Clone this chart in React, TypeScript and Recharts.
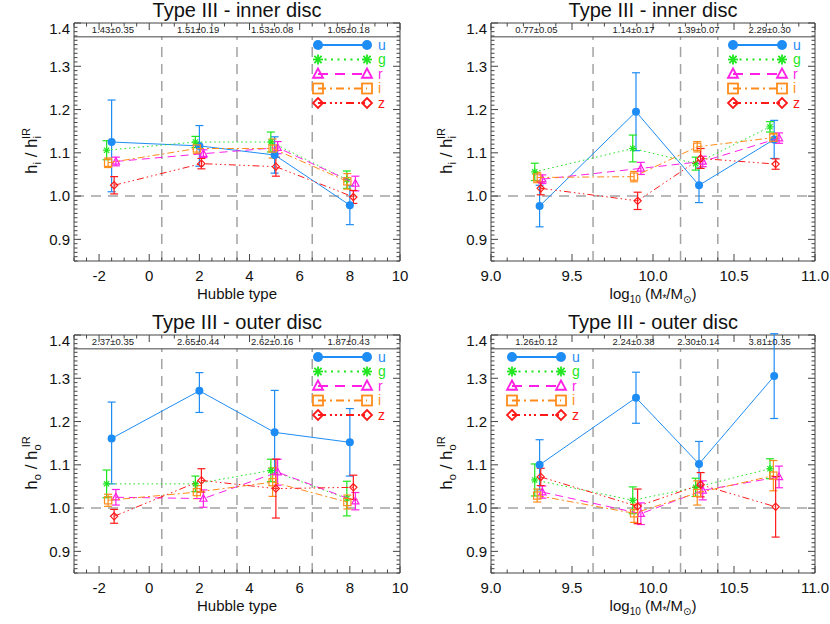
import React from "react";
import {
  ScatterChart,
  Scatter,
  XAxis,
  YAxis,
  ErrorBar,
  ReferenceLine,
  ReferenceArea,
  ReferenceDot,
  Legend,
} from "recharts";

type Band = "u" | "g" | "r" | "i" | "z";
type Err = number | [number, number];

const BANDS: Band[] = ["u", "g", "r", "i", "z"];

// x positions of the points (bands are shifted a little around each bin)
const typeX: Record<Band, number[]> = {
  u: [-1.5, 2.0, 5.0, 8.0],
  g: [-1.7, 1.84, 4.85, 7.88],
  r: [-1.33, 2.16, 5.12, 8.22],
  i: [-1.64, 1.9, 4.92, 7.9],
  z: [-1.4, 2.08, 5.05, 8.14],
};
const massX: Record<Band, number[]> = {
  u: [9.3, 9.895, 10.284, 10.748],
  g: [9.27, 9.875, 10.263, 10.722],
  r: [9.317, 9.925, 10.307, 10.778],
  i: [9.285, 9.883, 10.273, 10.743],
  z: [9.307, 9.905, 10.294, 10.757],
};

// inner disc vs Hubble type
const innerTypeY: Record<Band, number[]> = {
  u: [1.125, 1.116, 1.095, 0.979],
  g: [1.106, 1.125, 1.125, 1.038],
  r: [1.08, 1.098, 1.112, 1.029],
  i: [1.077, 1.11, 1.11, 1.034],
  z: [1.025, 1.075, 1.068, 0.998],
};
const innerTypeErr: Record<Band, Err[]> = {
  u: [[0.115, 0.097], 0.047, 0.042, 0.045],
  g: [0.022, 0.013, 0.023, 0.02],
  r: [0.01, 0.009, 0.014, 0.017],
  i: [0.011, 0.012, 0.022, 0.018],
  z: [0.02, 0.012, 0.022, 0.015],
};

// inner disc vs stellar mass
const innerMassY: Record<Band, number[]> = {
  u: [0.977, 1.195, 1.025, 1.131],
  g: [1.056, 1.11, 1.075, 1.16],
  r: [1.039, 1.064, 1.08, 1.134],
  i: [1.043, 1.045, 1.114, 1.135],
  z: [1.018, 0.989, 1.087, 1.074],
};
const innerMassErr: Record<Band, Err[]> = {
  u: [0.048, 0.09, 0.04, 0.044],
  g: [0.02, 0.031, 0.015, 0.012],
  r: [0.01, 0.014, 0.012, 0.012],
  i: [0.012, 0.012, 0.012, 0.01],
  z: [0.015, 0.02, 0.023, 0.012],
};

// outer disc vs Hubble type
const outerTypeY: Record<Band, number[]> = {
  u: [1.161, 1.271, 1.175, 1.152],
  g: [1.056, 1.056, 1.087, 1.022],
  r: [1.025, 1.022, 1.083, 1.016],
  i: [1.018, 1.037, 1.06, 1.014],
  z: [0.981, 1.064, 1.045, 1.048],
};
const outerTypeErr: Record<Band, Err[]> = {
  u: [[0.105, 0.084], [0.05, 0.042], 0.097, 0.078],
  g: [0.032, 0.018, 0.026, 0.04],
  r: [0.018, 0.02, 0.03, 0.02],
  i: [0.014, 0.015, 0.033, 0.016],
  z: [0.016, 0.027, 0.068, 0.028],
};

// outer disc vs stellar mass
const outerMassY: Record<Band, number[]> = {
  u: [1.1, 1.255, 1.102, 1.305],
  g: [1.065, 1.018, 1.048, 1.091],
  r: [1.037, 0.987, 1.041, 1.072],
  i: [1.029, 0.988, 1.035, 1.075],
  z: [1.072, 1.004, 1.054, 1.003],
};
const outerMassErr: Record<Band, Err[]> = {
  u: [0.058, 0.059, 0.052, 0.098],
  g: [0.037, 0.031, 0.021, 0.023],
  r: [0.014, 0.025, 0.022, 0.025],
  i: [0.015, 0.021, 0.028, 0.035],
  z: [0.02, 0.04, 0.028, 0.07],
};

const typeDividers = [0.5, 3.5, 6.5];
const massDividers = [9.63, 10.17, 10.4];
const typeBinX = [-1.45, 1.95, 4.9, 7.95];
const massBinX = [9.28, 9.88, 10.28, 10.72];
const innerTypeBins = ["1.43±0.35", "1.51±0.19", "1.53±0.08", "1.05±0.18"];
const innerMassBins = ["0.77±0.05", "1.14±0.17", "1.39±0.07", "2.29±0.30"];
const outerTypeBins = ["2.37±0.35", "2.65±0.44", "2.62±0.16", "1.87±0.43"];
const outerMassBins = ["1.26±0.12", "2.24±0.38", "2.30±0.14", "3.81±0.35"];

const typeTicks = [-2, 0, 2, 4, 6, 8, 10];
const massTicks = [9.0, 9.5, 10.0, 10.5, 11.0];
const yTicks = [0.9, 1.0, 1.1, 1.2, 1.3, 1.4];

const FONT = "'Liberation Sans', Arial, Helvetica, sans-serif";
const AXIS = "#444";
const GRAY = "#a3a3a3";
const Y_DOMAIN: [number, number] = [0.85, 1.4];
const STRIP_Y = 1.368;

const STYLE: Record<Band, { color: string; marker: string; dash?: string; legendDash?: string }> = {
  u: { color: "#1e8cf5", marker: "circle" },
  g: { color: "#1fe61f", marker: "star", dash: "1.5 3", legendDash: "2 4.5" },
  r: { color: "#ff1fe6", marker: "triangle", dash: "8 5", legendDash: "10 7" },
  i: { color: "#ff8c1a", marker: "square", dash: "7 3 2 3", legendDash: "8 4 2 4" },
  z: { color: "#ff1a1a", marker: "diamond", dash: "7 3 1.5 3 1.5 3 1.5 3", legendDash: "8 4 2 3 2 3 2 4" },
};

function Marker({ kind, cx, cy, color, size, sw }: any) {
  if (cx == null || cy == null) return null;
  const h = size;
  if (kind === "circle") return <circle cx={cx} cy={cy} r={h} fill={color} />;
  if (kind === "square")
    return <rect x={cx - h} y={cy - h} width={2 * h} height={2 * h} fill="#fff" fillOpacity={0} stroke={color} strokeWidth={sw} />;
  if (kind === "triangle")
    return (
      <polygon
        points={`${cx},${cy - h * 1.1} ${cx + h},${cy + h * 0.75} ${cx - h},${cy + h * 0.75}`}
        fill="none"
        stroke={color}
        strokeWidth={sw}
      />
    );
  if (kind === "diamond")
    return (
      <polygon points={`${cx},${cy - h} ${cx + h},${cy} ${cx},${cy + h} ${cx - h},${cy}`} fill="none" stroke={color} strokeWidth={sw} />
    );
  const d = h * 0.72;
  return (
    <g stroke={color} strokeWidth={sw}>
      <line x1={cx - h} x2={cx + h} y1={cy} y2={cy} />
      <line x1={cx} x2={cx} y1={cy - h} y2={cy + h} />
      <line x1={cx - d} x2={cx + d} y1={cy - d} y2={cy + d} />
      <line x1={cx - d} x2={cx + d} y1={cy + d} y2={cy - d} />
    </g>
  );
}

function BandLegend() {
  return (
    <svg width={92} height={80} style={{ display: "block" }}>
      {BANDS.map((b, k) => {
        const s = STYLE[b];
        const cy = 9 + k * 14.5;
        return (
          <g key={b}>
            <line x1={8} x2={57} y1={cy} y2={cy} stroke={s.color} strokeWidth={2} strokeDasharray={s.legendDash} />
            <Marker kind={s.marker} cx={8} cy={cy} color={s.color} size={5} sw={1.8} />
            <Marker kind={s.marker} cx={57} cy={cy} color={s.color} size={5} sw={1.8} />
            <text x={68} y={cy + 4.5} fontSize={14} fill={s.color} fontFamily={FONT}>
              {b}
            </text>
          </g>
        );
      })}
    </svg>
  );
}

function stepTicks(lo: number, hi: number, step: number) {
  const n = Math.round((hi - lo) / step);
  const out: number[] = [];
  for (let k = 0; k <= n; k++) out.push(Math.round((lo + k * step) * 1000) / 1000);
  return out;
}

const isMajor = (majors: number[], v: number) => majors.some((m) => Math.abs(m - v) < 1e-6);

function Panel(props: any) {
  const { left, top, title, marginLeft, xDomain, xMajor, xMinor, xFmt, xLabel, ySub, xs, ys, errs, dividers, binX, bins, legendX } = props;
  const W = 415;
  const H = 312;
  const plotTop = 23;
  const plotBottom = 261;
  const plotLeft = marginLeft;
  const plotRight = W - 15;
  const plotW = plotRight - plotLeft;
  const midX = plotLeft + plotW / 2;
  // axes are 1px thick, so the margins leave that pixel out
  const margin = { top: plotTop, right: W - plotRight, bottom: H - plotBottom - 1, left: plotLeft - 1 };

  const xAll = stepTicks(xDomain[0], xDomain[1], xMinor);
  const yAll = stepTicks(Y_DOMAIN[0], Y_DOMAIN[1], 0.01);

  const renderXTick = (p: any) => {
    const v = p.payload.value;
    const major = isMajor(xMajor, v);
    const len = major ? 7 : 3.5;
    return (
      <g>
        <line x1={p.x} x2={p.x} y1={plotBottom} y2={plotBottom - len} stroke={AXIS} />
        <line x1={p.x} x2={p.x} y1={plotTop} y2={plotTop + len} stroke={AXIS} />
        {major && (
          <text x={p.x} y={plotBottom + 20} textAnchor="middle" fontSize={15} fill="#111" fontFamily={FONT}>
            {xFmt(v)}
          </text>
        )}
      </g>
    );
  };

  const renderYTick = (p: any) => {
    const v = p.payload.value;
    const major = isMajor(yTicks, v);
    const len = major ? 7 : 3.5;
    return (
      <g>
        <line x1={plotLeft} x2={plotLeft + len} y1={p.y} y2={p.y} stroke={AXIS} />
        <line x1={plotRight} x2={plotRight - len} y1={p.y} y2={p.y} stroke={AXIS} />
        {major && (
          <text x={plotLeft - 4} y={p.y + (v > 1.39 ? 6 : 0)} dy="0.36em" textAnchor="end" fontSize={15} fill="#111" fontFamily={FONT}>
            {v.toFixed(1)}
          </text>
        )}
      </g>
    );
  };

  const yLabel = () => {
    const cx = 37;
    const cy = 151;
    return (
      <text x={cx} y={cy} transform={`rotate(-90 ${cx} ${cy})`} textAnchor="middle" fontSize={17} fill="#111" fontFamily={FONT}>
        h
        <tspan fontSize={11} dy={4}>
          {ySub}
        </tspan>
        <tspan dy={-4}> / h</tspan>
        <tspan fontSize={11} dy={4}>
          {ySub}
        </tspan>
        <tspan fontSize={11} dx={-3} dy={-11}>
          IR
        </tspan>
      </text>
    );
  };

  const xLabelFn = () => (
    <text x={midX} y={299} textAnchor="middle" fontSize={15} fill="#111" fontFamily={FONT}>
      {xLabel === "type" ? (
        "Hubble type"
      ) : (
        <>
          log
          <tspan fontSize={10} dy={4}>
            10
          </tspan>
          <tspan dy={-4}> (M</tspan>
          <tspan fontSize={10} dy={3}>
            *
          </tspan>
          <tspan dy={-3}>/M</tspan>
          <tspan fontSize={10} dy={4} fontFamily="'DejaVu Sans', sans-serif">
            ⊙
          </tspan>
          <tspan dy={-4}>)</tspan>
        </>
      )}
    </text>
  );

  return (
    <div style={{ position: "absolute", left, top, width: W, height: H }}>
      <div
        style={{
          position: "absolute",
          left: plotLeft,
          top: 0,
          width: plotW,
          textAlign: "center",
          fontFamily: FONT,
          fontSize: 20,
          lineHeight: "20px",
          color: "#111",
          zIndex: 2,
        }}
      >
        {title}
      </div>
      <ScatterChart width={W} height={H} margin={margin}>
        <XAxis
          dataKey="x"
          type="number"
          domain={xDomain}
          ticks={xAll}
          interval={0}
          allowDataOverflow
          height={1}
          tickSize={0}
          tickMargin={0}
          axisLine={false}
          tickLine={false}
          tick={renderXTick}
          label={xLabelFn}
        />
        <YAxis
          dataKey="y"
          type="number"
          domain={Y_DOMAIN}
          ticks={yAll}
          interval={0}
          allowDataOverflow
          width={1}
          tickSize={0}
          tickMargin={0}
          axisLine={false}
          tickLine={false}
          tick={renderYTick}
          label={yLabel}
        />
        <ReferenceLine y={1} stroke={GRAY} strokeWidth={1.5} strokeDasharray="10 7" />
        {dividers.map((d: number) => (
          <ReferenceLine
            key={d}
            segment={[
              { x: d, y: Y_DOMAIN[0] },
              { x: d, y: STRIP_Y },
            ]}
            stroke={GRAY}
            strokeWidth={1.5}
            strokeDasharray="10 7"
          />
        ))}
        <ReferenceLine y={STRIP_Y} stroke={AXIS} strokeWidth={1} />
        {bins.map((t: string, k: number) => (
          <ReferenceDot
            key={t + k}
            x={binX[k]}
            y={1.384}
            r={0}
            fill="none"
            stroke="none"
            label={{ value: t, position: "center", fontSize: 9.5, fill: "#222", fontFamily: FONT }}
          />
        ))}
        <ReferenceArea x1={xDomain[0]} x2={xDomain[1]} y1={Y_DOMAIN[0]} y2={Y_DOMAIN[1]} fill="none" stroke={AXIS} strokeWidth={1} ifOverflow="visible" />
        {BANDS.map((b) => {
          const s = STYLE[b];
          const data = xs[b].map((x: number, k: number) => ({ x, y: ys[b][k], err: errs[b][k] }));
          return (
            <Scatter
              key={b}
              name={b}
              data={data}
              fill={s.color}
              line={{ stroke: s.color, strokeWidth: 1, strokeDasharray: s.dash }}
              lineType="joint"
              shape={(p: any) => <Marker kind={s.marker} cx={p.cx} cy={p.cy} color={s.color} size={s.marker === "circle" ? 4 : 3.6} sw={1.2} />}
              isAnimationActive={false}
            >
              <ErrorBar dataKey="err" direction="y" width={4} stroke={s.color} strokeWidth={1.2} isAnimationActive={false} />
            </Scatter>
          );
        })}
        <Legend
          layout="vertical"
          align="center"
          verticalAlign="middle"
          content={() => <BandLegend />}
          wrapperStyle={{ left: legendX - 8, top: 36, width: 92, height: 80 }}
        />
      </ScatterChart>
    </div>
  );
}

export default function App() {
  const typeAxis = { marginLeft: 74, xDomain: [-3, 10], xMajor: typeTicks, xMinor: 0.5, xFmt: (v: number) => String(v), xLabel: "type", xs: typeX, dividers: typeDividers, binX: typeBinX };
  const massAxis = { marginLeft: 76, xDomain: [9, 11], xMajor: massTicks, xMinor: 0.1, xFmt: (v: number) => v.toFixed(1), xLabel: "mass", xs: massX, dividers: massDividers, binX: massBinX };
  return (
    <div style={{ position: "absolute", left: 0, top: 0, width: 830, height: 624, background: "#fff" }}>
      <Panel {...typeAxis} left={0} top={0} title="Type III - inner disc" ySub="i" ys={innerTypeY} errs={innerTypeErr} bins={innerTypeBins} legendX={318} />
      <Panel {...massAxis} left={415} top={0} title="Type III - inner disc" ySub="i" ys={innerMassY} errs={innerMassErr} bins={innerMassBins} legendX={318} />
      <Panel {...typeAxis} left={0} top={312} title="Type III - outer disc" ySub="o" ys={outerTypeY} errs={outerTypeErr} bins={outerTypeBins} legendX={318} />
      <Panel {...massAxis} left={415} top={312} title="Type III - outer disc" ySub="o" ys={outerMassY} errs={outerMassErr} bins={outerMassBins} legendX={97} />
    </div>
  );
}
